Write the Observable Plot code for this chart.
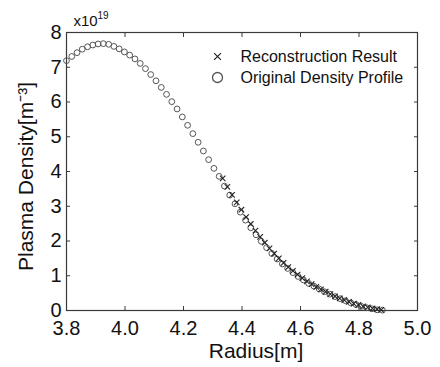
<!DOCTYPE html>
<html>
<head>
<meta charset="utf-8">
<script src="https://cdn.jsdelivr.net/npm/d3@7"></script>
<script src="https://cdn.jsdelivr.net/npm/@observablehq/plot@0.6"></script>
<style>
  html, body { margin: 0; padding: 0; background: #fff; }
  #chart svg { display: block; }
</style>
</head>
<body>
<div id="chart"></div>
<script>
// Original density profile (circles): radius [m], density [x10^19 m^-3]
const origRadius = [3.800,3.818,3.836,3.854,3.872,3.890,3.908,3.926,3.944,3.962,3.980,3.998,4.016,4.034,4.052,4.070,4.088,4.106,4.124,4.142,4.160,4.178,4.196,4.214,4.232,4.250,4.268,4.286,4.304,4.322,4.340,4.358,4.376,4.394,4.412,4.430,4.448,4.466,4.484,4.502,4.520,4.538,4.556,4.574,4.592,4.610,4.628,4.646,4.664,4.682,4.700,4.718,4.736,4.754,4.772,4.790,4.808,4.826,4.844,4.862,4.880];
const origDensity = [7.19,7.31,7.42,7.52,7.59,7.64,7.67,7.68,7.66,7.60,7.53,7.44,7.35,7.24,7.11,6.96,6.79,6.61,6.42,6.22,6.01,5.80,5.57,5.33,5.09,4.84,4.59,4.34,4.09,3.86,3.58,3.32,3.07,2.83,2.60,2.38,2.18,1.99,1.81,1.64,1.48,1.34,1.21,1.09,0.98,0.88,0.78,0.70,0.62,0.54,0.47,0.40,0.34,0.28,0.22,0.17,0.12,0.08,0.05,0.02,0.01];

// Reconstruction result (crosses)
const recRadius = [4.334,4.350,4.366,4.382,4.398,4.414,4.430,4.446,4.462,4.478,4.494,4.510,4.526,4.542,4.558,4.574,4.590,4.606,4.622,4.638,4.654,4.670,4.686,4.702,4.718,4.734,4.750,4.766,4.782,4.798,4.814,4.830,4.846,4.862,4.876];
const recDensity = [3.80,3.56,3.33,3.11,2.90,2.69,2.49,2.30,2.12,1.95,1.79,1.64,1.50,1.37,1.25,1.14,1.03,0.93,0.84,0.76,0.68,0.61,0.54,0.47,0.41,0.35,0.30,0.25,0.20,0.16,0.12,0.09,0.06,0.04,0.02];

const xTicks = [3.8, 4.0, 4.2, 4.4, 4.6, 4.8, 5.0];
const yTicks = [0, 1, 2, 3, 4, 5, 6, 7, 8];
const legendLabels = ["Reconstruction Result", "Original Density Profile"];
const xLabel = "Radius[m]";
const yLabel = "Plasma Density[m\u207B\u00B3]";
const exponentBase = "x10";
const exponentPower = "19";

const orig = origRadius.map((r, i) => ({r, v: origDensity[i]}));
const rec = recRadius.map((r, i) => ({r, v: recDensity[i]}));

const FONT = "'Liberation Sans', Arial, Helvetica, sans-serif";
const AX = "#3a3a3a";

const chart = Plot.plot({
  width: 440,
  height: 367,
  marginLeft: 66,
  marginRight: 23,
  marginTop: 32,
  marginBottom: 57,
  style: {fontFamily: FONT, color: "#111", background: "#fff"},
  x: {domain: [3.8, 5.0]},
  y: {domain: [0, 8]},
  marks: [
    Plot.frame({stroke: AX, strokeWidth: 1.2}),
    Plot.axisX({anchor: "bottom", ticks: xTicks, tickSize: -4, tickPadding: 14, stroke: AX,
      tickFormat: d => d.toFixed(1), fontSize: 20, label: null, fill: "#111"}),
    Plot.axisX({anchor: "top", ticks: xTicks, tickSize: -4, stroke: AX, tickFormat: () => "", label: null}),
    Plot.axisY({anchor: "left", ticks: yTicks, tickSize: -4, tickPadding: 9, stroke: AX,
      tickFormat: d => String(d), fontSize: 20, label: null, fill: "#111"}),
    Plot.axisY({anchor: "right", ticks: yTicks, tickSize: -4, stroke: AX, tickFormat: () => "", label: null}),
    Plot.dot(orig, {x: "r", y: "v", symbol: "circle", r: 2.9, stroke: "#555", strokeWidth: 1, fill: "none"}),
    Plot.dot(rec, {x: "r", y: "v", symbol: "times", r: 2.6, stroke: "#222", strokeWidth: 1.1}),
    // axis titles
    Plot.text([xLabel], {frameAnchor: "bottom", dx: 14, dy: 41, fontSize: 21, fill: "#111", lineAnchor: "middle"}),
    Plot.text([yLabel], {frameAnchor: "left", rotate: -90, dx: -40, dy: 5, fontSize: 21, fill: "#111", textAnchor: "middle", lineAnchor: "middle"}),
    // exponent
    Plot.text([exponentBase], {frameAnchor: "top-left", dx: 7, dy: -11, fontSize: 15, fill: "#111", textAnchor: "start", lineAnchor: "middle"}),
    Plot.text([exponentPower], {frameAnchor: "top-left", dx: 31, dy: -17, fontSize: 10, fill: "#111", textAnchor: "start", lineAnchor: "middle"}),
    // legend
    Plot.dot([legendLabels[0]], {frameAnchor: "top-left", dx: 151, dy: 24, symbol: "times", r: 3.2, stroke: "#222", strokeWidth: 1.2}),
    Plot.dot([legendLabels[1]], {frameAnchor: "top-left", dx: 151, dy: 45, symbol: "circle", r: 5, stroke: "#555", strokeWidth: 1.3, fill: "none"}),
    Plot.text([legendLabels[0]], {frameAnchor: "top-left", dx: 174, dy: 24, fontSize: 16, fill: "#111", textAnchor: "start", lineAnchor: "middle"}),
    Plot.text([legendLabels[1]], {frameAnchor: "top-left", dx: 174, dy: 45, fontSize: 16, fill: "#111", textAnchor: "start", lineAnchor: "middle"})
  ]
});
document.getElementById("chart").appendChild(chart);
</script>
</body>
</html>
